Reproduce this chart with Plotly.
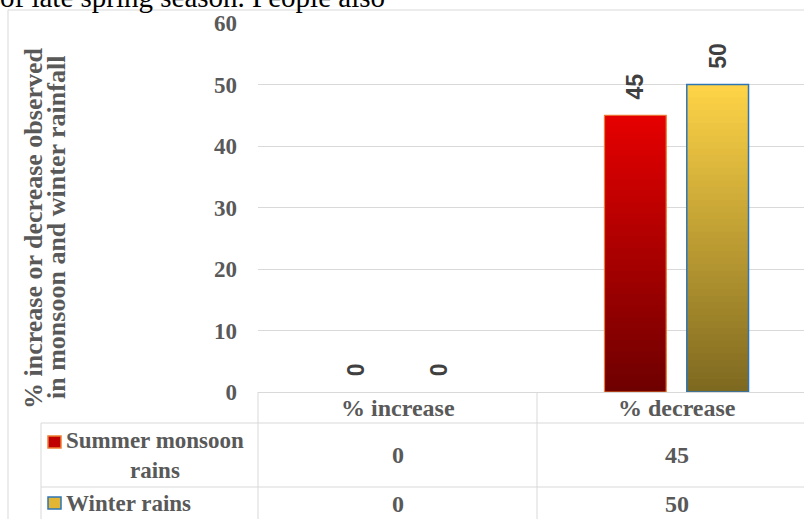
import plotly.graph_objects as go

# ---- data ----
categories = ["% increase", "% decrease"]
series_names = ["Summer monsoon<br>rains", "Winter rains"]
summer_monsoon = [0, 45]
winter_rains = [0, 50]
y_ticks = [0, 10, 20, 30, 40, 50, 60]
y_title_lines = ["% increase or decrease observed", "in monsoon and winter rainfall"]
page_text = "of late spring season. People also"

# ---- geometry / style ----
W, H = 804, 519
L, T, B = 258, 23, 127
PW, PH = W - L, H - T - B
XR = [-0.5, -0.5 + PW / 279.0]
SERIF = "Liberation Serif"
SANS = "Liberation Sans"
GRAY = "#595959"
LINE = "#D9D9D9"


def px(x):
    return (x - L) / PW


def py(y):
    return (H - B - y) / PH


def cat_paper(c):
    return (c - XR[0]) / (XR[1] - XR[0])


def mix(c1, c2, t):
    a = [int(c1[i:i + 2], 16) for i in (1, 3, 5)]
    b = [int(c2[i:i + 2], 16) for i in (1, 3, 5)]
    return "rgb(%d,%d,%d)" % tuple(round(a[k] + (b[k] - a[k]) * t) for k in range(3))


styles = [
    dict(bottom="#6E0000", top="#E60000", edge="#ED7D31", ew=1.2),
    dict(bottom="#7D6820", top="#FFD447", edge="#2E75B6", ew=1.5),
]

fig = go.Figure()
N = 48
for s, (vals, st) in enumerate(zip([summer_monsoon, winter_rains], styles)):
    for k in range(N):
        bases = [v * k / N for v in vals]
        heights = [min(v / N * 1.8, v - b) for v, b in zip(vals, bases)]
        fig.add_trace(go.Bar(
            x=categories, y=heights, base=bases,
            offsetgroup=str(s), marker=dict(color=mix(st["bottom"], st["top"], (k + 0.5) / N), line=dict(width=0)),
            showlegend=False, hoverinfo="skip"))
    fig.add_trace(go.Bar(
        x=categories, y=vals, offsetgroup=str(s),
        marker=dict(color="rgba(0,0,0,0)",
                    line=dict(color=st["edge"], width=[st["ew"] if v else 0 for v in vals])),
        text=["\u00a0\u00a0" + str(v) for v in vals], textposition="outside", textangle=-90,
        textfont=dict(family=SANS, size=23, color="#404040", weight="bold"),
        cliponaxis=False, showlegend=False, hoverinfo="skip"))

shapes = []
ln = dict(color=LINE, width=1)
# outer chart border
shapes.append(dict(type="line", xref="paper", yref="paper", x0=px(8), x1=px(8), y0=py(10), y1=py(540), line=ln))
shapes.append(dict(type="line", xref="paper", yref="paper", x0=px(8), x1=px(830), y0=py(10), y1=py(10), line=ln))
# data table lines
for yy in (423, 487):
    shapes.append(dict(type="line", xref="paper", yref="paper", x0=px(41), x1=px(830), y0=py(yy), y1=py(yy), line=ln))
shapes.append(dict(type="line", xref="paper", yref="paper", x0=px(41), x1=px(41), y0=py(423), y1=py(540), line=ln))
for c in (-0.5, 0.5, 1.5):
    xp = cat_paper(c)
    shapes.append(dict(type="line", xref="paper", yref="paper", x0=xp, x1=xp, y0=0, y1=py(540), line=ln))
# legend keys
shapes.append(dict(type="rect", xref="paper", yref="paper", x0=px(48), x1=px(61), y0=py(436), y1=py(448),
                   fillcolor="#C00000", line=dict(color="#ED7D31", width=1.5)))
shapes.append(dict(type="rect", xref="paper", yref="paper", x0=px(48), x1=px(61), y0=py(497), y1=py(509),
                   fillcolor="#E2B534", line=dict(color="#2E75B6", width=1.5)))

ann = []
for i, c in enumerate(categories):
    ann.append(dict(xref="x", yref="paper", x=i, y=py(408), yanchor="middle", text="<b>%s</b>" % c,
                    showarrow=False, font=dict(family=SERIF, size=24, color=GRAY)))
    ann.append(dict(xref="x", yref="paper", x=i, y=py(455), yanchor="middle", text="<b>%s</b>" % summer_monsoon[i],
                    showarrow=False, font=dict(family=SERIF, size=24, color=GRAY)))
    ann.append(dict(xref="x", yref="paper", x=i, y=py(504), yanchor="middle", text="<b>%s</b>" % winter_rains[i],
                    showarrow=False, font=dict(family=SERIF, size=24, color=GRAY)))
for name, yy in zip(series_names, (455, 504)):
    ann.append(dict(xref="paper", yref="paper", x=px(64), xanchor="left", y=py(yy), yanchor="middle",
                    text="<b>%s</b>" % name, align="center", showarrow=False,
                    font=dict(family=SERIF, size=23, color=GRAY)))
for line_txt, xx in zip(y_title_lines, (33, 56)):
    ann.append(dict(xref="paper", yref="paper", x=px(xx), xanchor="center", y=py(228), yanchor="middle",
                    text="<b>%s</b>" % line_txt, textangle=-90,
                    showarrow=False, font=dict(family=SERIF, size=26, color=GRAY)))
ann.append(dict(xref="paper", yref="paper", x=px(-2), xanchor="left", y=py(15), yanchor="bottom", text=page_text,
                showarrow=False, font=dict(family=SERIF, size=29, color="#000000")))

fig.update_layout(
    width=W, height=H, margin=dict(l=L, r=0, t=T, b=B, pad=0),
    paper_bgcolor="white", plot_bgcolor="white",
    barmode="group", bargap=0.41, bargroupgap=0.25,
    xaxis=dict(range=XR, showticklabels=False, showgrid=False, zeroline=False,
               showline=True, linecolor=LINE, linewidth=1, fixedrange=True),
    yaxis=dict(range=[0, 60], tickvals=y_ticks, showgrid=True, gridcolor=LINE, gridwidth=1, zeroline=False,
               ticks="", ticklabelstandoff=20,
               tickfont=dict(family=SERIF, size=23, color=GRAY, weight="bold"), fixedrange=True),
    shapes=shapes, annotations=ann, showlegend=False,
)

fig.write_html("out.html")
